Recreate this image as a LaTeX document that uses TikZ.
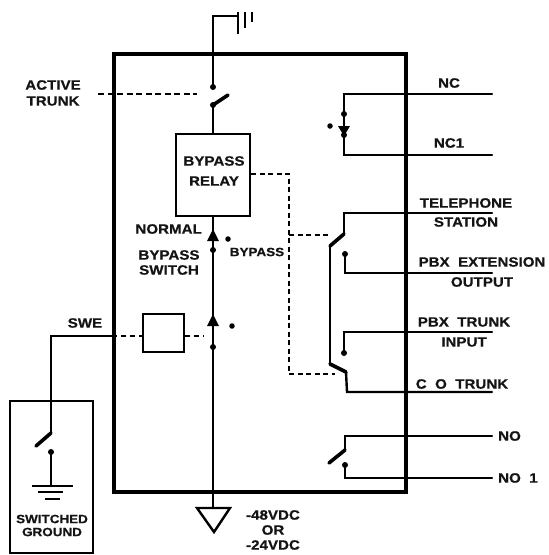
\documentclass[tikz,border=0pt]{standalone}
\usepackage{fontspec}
\setmainfont{Liberation Sans}[FakeStretch=1.12,FakeBold=0.6]
\begin{document}
\begin{tikzpicture}[x=1pt,y=-1pt,
  wire/.style={line width=2.4pt,line cap=round,line join=miter},
  ctrl/.style={line width=2.2pt,dash pattern=on 6pt off 3.5pt},
  frame/.style={draw,line width=4pt,minimum width=292pt,minimum height=438pt,inner sep=0pt},
  thinbox/.style={draw,line width=2.2pt,inner sep=0pt},
  lab/.style={font=\fontsize{13.5}{14}\selectfont\bfseries,inner sep=0pt,align=center,text=black!92},
  smalllab/.style={lab,font=\fontsize{12}{12}\selectfont\bfseries},
  dotc/.style={circle,fill=black,inner sep=0pt,minimum size=6pt},
  bul/.style={circle,fill=black,inner sep=0pt,minimum size=5.5pt},
  tri/.style={fill=black,draw=none},
  blade/.style={line width=3.6pt,line cap=round},
  ]
\useasboundingbox (0,0) rectangle (549,555);
\fill[white] (0,0) rectangle (549,555);
% boxes
\node[frame] (main) at (260,273) {};
\node[thinbox,minimum width=74pt,minimum height=82pt] (relay) at (213,175) {};
\node[lab] at (214,161) {BYPASS};
\node[lab] at (214,181) {RELAY};
\node[thinbox,minimum width=41pt,minimum height=38pt] (swbox) at (163.5,333) {};
\node[thinbox,minimum width=83pt,minimum height=152pt] (gbox) at (51.5,477) {};
% named junctions
\coordinate (topw) at (213,16);
\coordinate (gndw) at (237,16);
\coordinate (c1a) at (213,87);
\coordinate (c1b) at (213,105);
\coordinate (c1c) at (228,95);
\coordinate (atr) at (98,94);
\coordinate (atr2) at (197,94);
\coordinate (tw) at (213,234);
\coordinate (td) at (213,250);
\coordinate (m2) at (213,320);
\coordinate (m3) at (213,347);
\coordinate (vsup) at (213,508);
% upper wire + ground
\draw[wire] (relay.north -| c1b) -- (c1b);
\draw[blade] (c1b) -- (c1c);
\draw[wire] (c1a) -- (main.north -| c1a) -- (topw) -- (gndw);
\node[dotc] at (c1a) {};
\node[dotc] at (c1b) {};
\draw[line width=2.8pt] (238,12) -- (238,34);
\draw[line width=2.8pt] (245,12) -- (245,28);
\draw[line width=2.8pt] (252,12) -- (252,22);
\draw[ctrl] (atr) -- (atr2);
\node[lab] at (53,85) {ACTIVE};
\node[lab] at (53,101) {TRUNK};
% lower wire
\draw[wire] (relay.south -| tw) -- (vsup);
\fill[tri] (213,229) -- (219,241) -- (207,241) -- cycle;
\node[dotc] at (td) {};
\fill[tri] (213,314) -- (219,326) -- (207,326) -- cycle;
\node[dotc] at (m3) {};
\node[bul] at (228,239) {};
\node[bul] at (232,326) {};
\node[lab,anchor=east] at (202,229) {NORMAL};
\node[lab] at (169,255) {BYPASS};
\node[lab] at (169,270) {SWITCH};
\node[smalllab] at (257,252) {BYPASS};
% supply
\draw[line width=2.4pt,line join=miter] (197,508) -- (230,508) -- (214,532) -- cycle;
\node[lab] at (273,515) {-48VDC};
\node[lab] at (273,530) {OR};
\node[lab] at (273,545) {-24VDC};
% SWE
\coordinate (sw1) at (51,336);
\coordinate (sw2) at (51,433);
\coordinate (sw3) at (36,446);
\coordinate (sw4) at (51,452);
\coordinate (sw5) at (51,486);
\draw[wire] (main.west |- sw1) -- (sw1) -- (sw2);
\draw[blade] (sw2) -- (sw3);
\node[lab] at (85,323) {SWE};
\draw[ctrl,dash pattern=on 5pt off 4pt] (main.west |- sw1) -- (swbox.west |- sw1);
\draw[ctrl,dash pattern=on 5pt off 4pt] (swbox.east |- sw1) -- (204,336);
\node[dotc] at (sw4) {};
\draw[wire] (sw4) -- (sw5);
\draw[line width=2.4pt] (32,486) -- (73,486);
\draw[line width=2.4pt] (38,492) -- (63,492);
\draw[line width=2.4pt] (45,499) -- (60,499);
\node[smalllab] at (52,519) {SWITCHED};
\node[smalllab] at (52,532) {GROUND};
% NC
\coordinate (nc) at (344,94);
\coordinate (nc1) at (344,155);
\coordinate (nce) at (492,94);
\coordinate (nc1e) at (492,155);
\draw[wire] (nce) -- (nc) -- (nc1) -- (nc1e);
\node[dotc] at (344,114) {};
\fill[tri] (338,126) -- (350,126) -- (344,136) -- cycle;
\node[dotc] at (344,135) {};
\node[bul] at (330,126) {};
\node[lab] at (449,83) {NC};
\node[lab] at (449,143) {NC1};
% telephone
\coordinate (te) at (492,213);
\coordinate (ta) at (344,213);
\coordinate (tb) at (344,234);
\coordinate (tc) at (330,246);
\coordinate (td2) at (330,364);
\coordinate (tf) at (346,372);
\coordinate (tg) at (347,392);
\coordinate (th) at (492,392);
\draw[wire] (te) -- (ta) -- (tb);
\draw[blade] (tb) -- (tc);
\draw[wire] (tc) -- (td2);
\draw[blade] (td2) -- (tf);
\draw[wire] (tf) -- (tg) -- (th);
\coordinate (pa) at (345,254);
\coordinate (pb) at (345,273);
\coordinate (pc) at (492,273);
\node[dotc] at (pa) {};
\draw[wire] (pa) -- (pb) -- (pc);
\coordinate (qa) at (344,332);
\coordinate (qb) at (492,332);
\coordinate (qc) at (344,353);
\node[dotc] at (qc) {};
\draw[wire] (qb) -- (qa) -- (qc);
\node[lab] at (466,203) {TELEPHONE};
\node[lab] at (466,222) {STATION};
\node[lab] at (482,262) {PBX\ \ EXTENSION};
\node[lab] at (482,282) {OUTPUT};
\node[lab] at (464,322) {PBX\ \ TRUNK};
\node[lab] at (464,342) {INPUT};
\node[lab] at (462,384) {C\ \ O\ \ TRUNK};
% NO
\coordinate (na) at (492,436);
\coordinate (nb) at (345,436);
\coordinate (nc2) at (345,450);
\coordinate (nd) at (329,463);
\coordinate (ne) at (345,465);
\coordinate (nf) at (345,478);
\coordinate (ng) at (492,478);
\draw[wire] (na) -- (nb) -- (nc2);
\draw[blade] (nc2) -- (nd);
\node[dotc] at (ne) {};
\draw[wire] (ne) -- (nf) -- (ng);
\node[lab,anchor=west] at (498,436) {NO};
\node[lab,anchor=west] at (498,478) {NO\ \ 1};
% control dashed
\coordinate (da) at (289,174);
\coordinate (db) at (289,374);
\coordinate (dc) at (335,374);
\coordinate (dd) at (289,235);
\coordinate (de) at (328,235);
\draw[ctrl,dash pattern=on 5pt off 3.5pt] (relay.east |- da) -- (da) -- (db) -- (dc);
\draw[ctrl,dash pattern=on 5pt off 3.5pt] (dd) -- (de);
\end{tikzpicture}
\end{document}
